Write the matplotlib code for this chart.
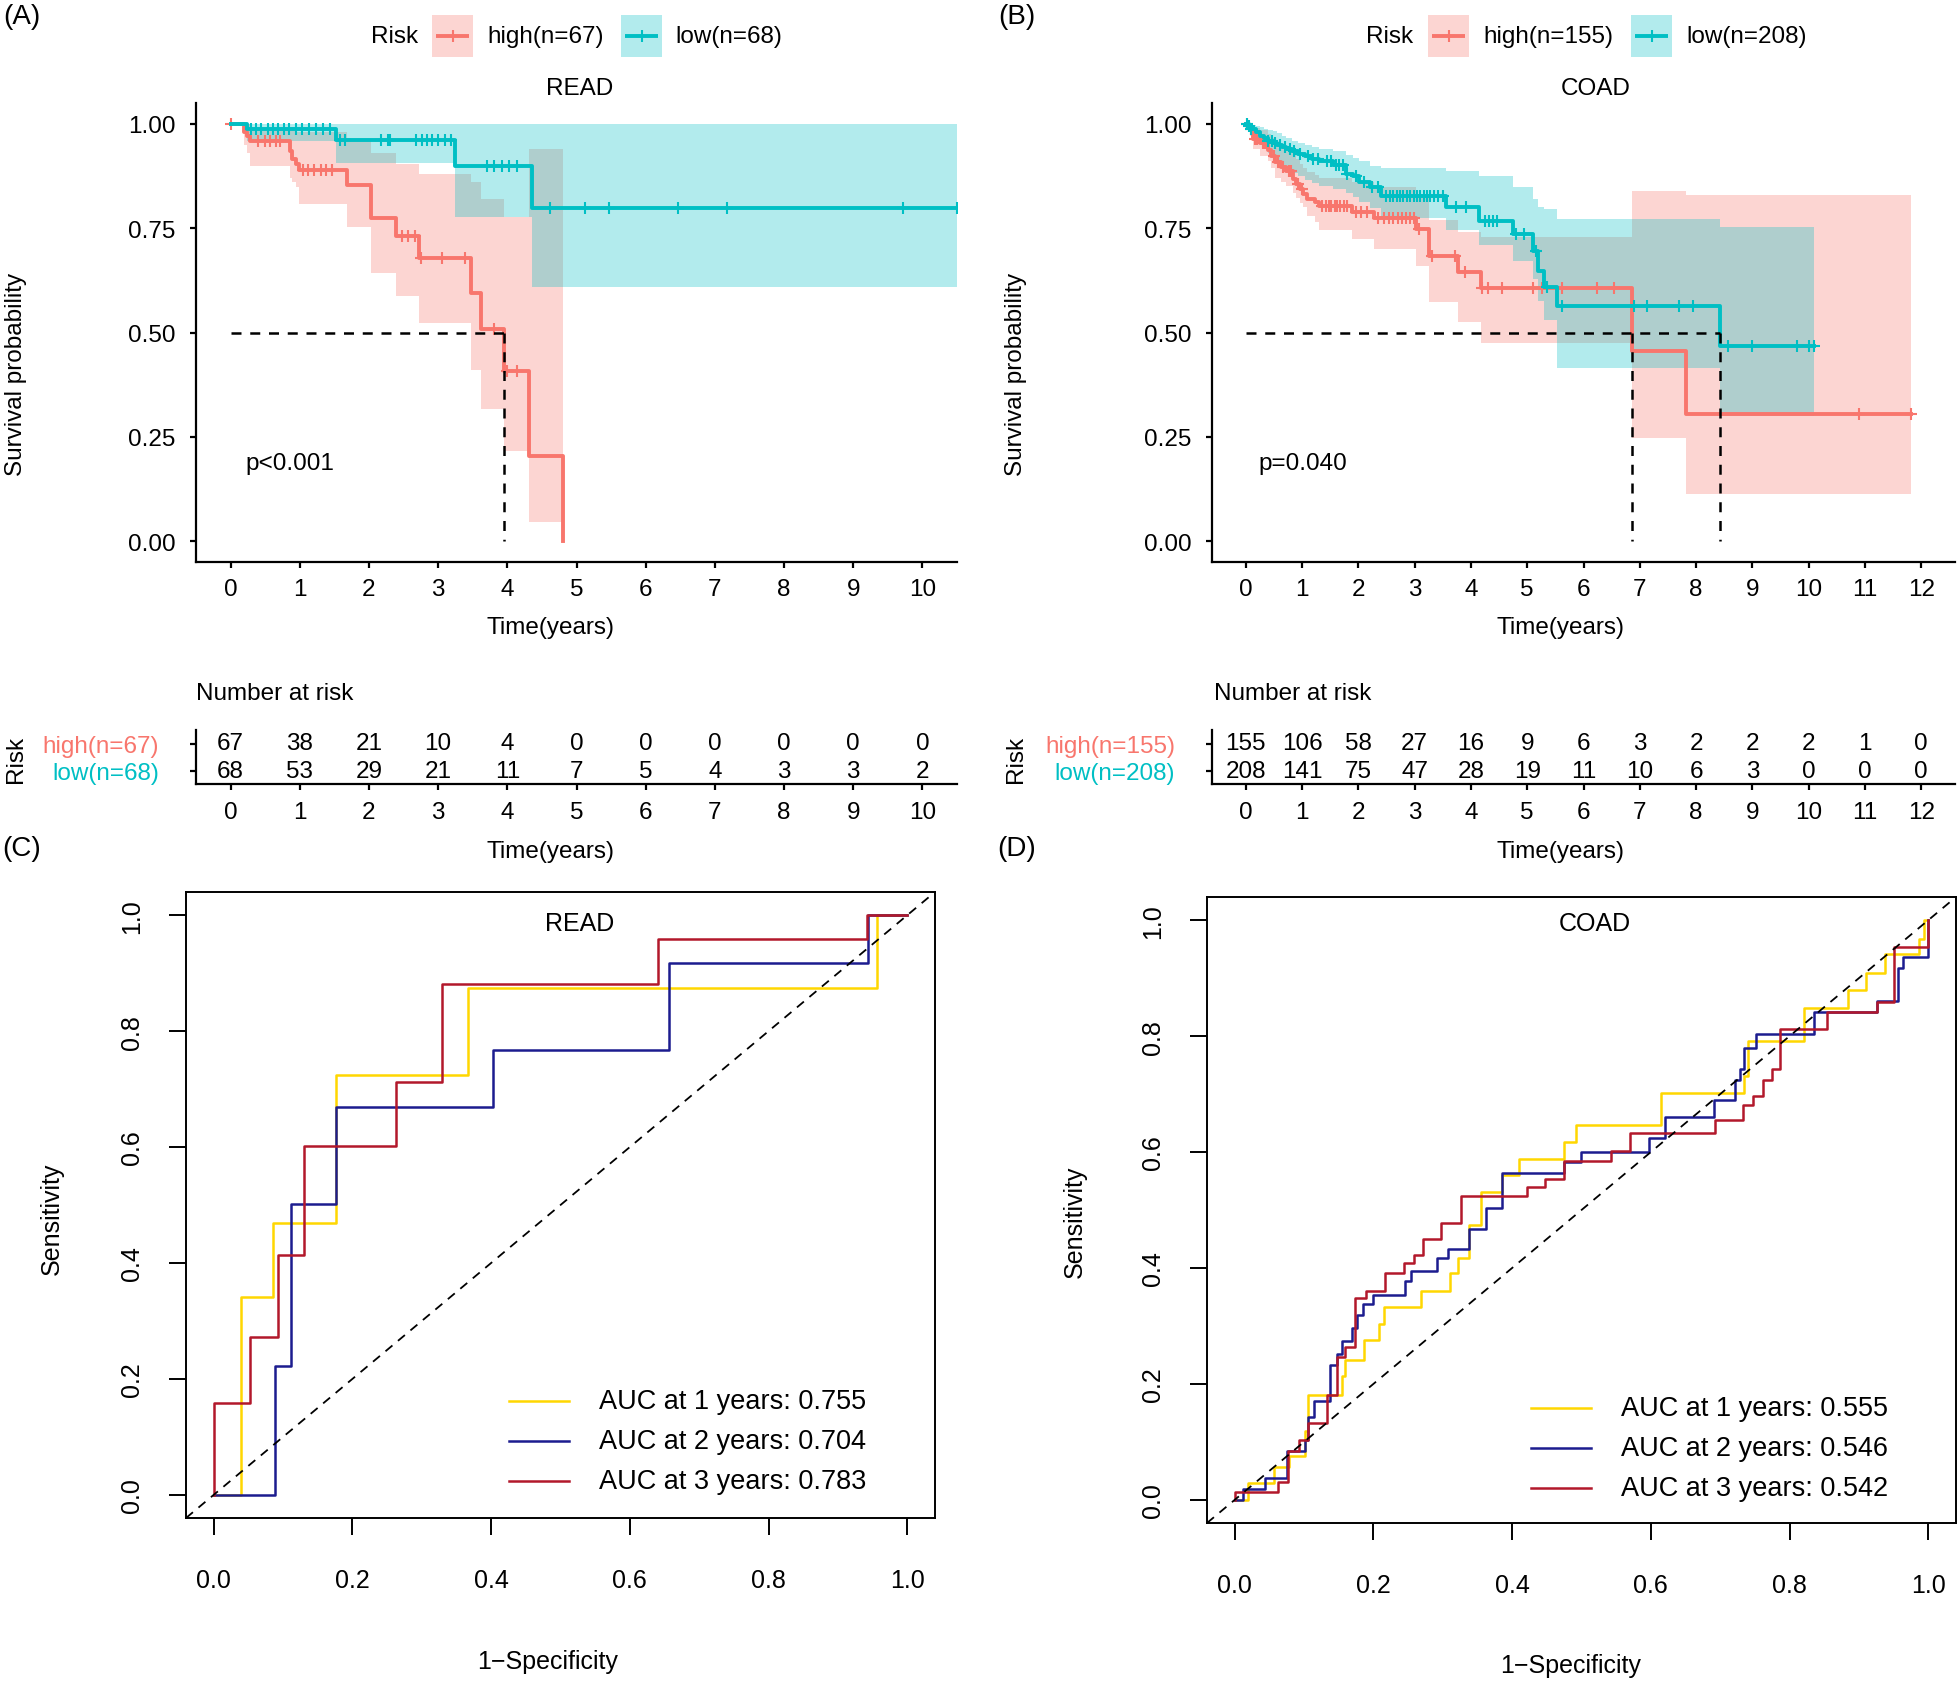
import numpy as np
import matplotlib
matplotlib.use("Agg")
import matplotlib.pyplot as plt
from matplotlib.patches import Rectangle

plt.rcParams['font.family'] = ['Liberation Sans', 'DejaVu Sans']

RED = '#F8766D'
TEAL = '#00BFC4'
ROC_COLS = ['#FFD700', '#1C1C8F', '#B2182B']

# ---------------- Panel A (READ) Kaplan-Meier ----------------
A_high_t = [0, 0.19, 0.23, 0.28, 0.86, 0.89, 0.95, 0.99, 1.68, 2.03, 2.39, 2.73, 3.47, 3.62, 3.95, 4.31, 4.80]
A_high_s = [1.0, 0.980, 0.972, 0.958, 0.936, 0.916, 0.904, 0.890, 0.854, 0.775, 0.731, 0.678, 0.595, 0.508, 0.408, 0.205, 0.0]
A_high_lo = [1.0, 0.950, 0.930, 0.900, 0.870, 0.860, 0.848, 0.807, 0.754, 0.642, 0.588, 0.523, 0.411, 0.317, 0.215, 0.046, 0.046]
A_high_up = [1.0, 1.0, 1.0, 0.990, 0.985, 0.982, 0.980, 0.980, 0.960, 0.930, 0.905, 0.880, 0.860, 0.820, 0.776, 0.940, 0.940]
A_high_cens = [0.0, 0.39, 0.50, 0.57, 0.65, 0.72, 1.05, 1.12, 1.21, 1.31, 1.38, 1.46, 2.48, 2.57, 2.66,
               2.75, 3.05, 3.39, 3.81, 4.00, 4.14]

A_low_t = [0, 0.23, 1.52, 3.25, 4.36, 10.5]
A_low_s = [1.0, 0.988, 0.962, 0.898, 0.799, 0.799]
A_low_lo = [1.0, 0.960, 0.906, 0.776, 0.608, 0.608]
A_low_up = [1.0, 1.0, 1.0, 1.0, 1.0, 1.0]
A_low_cens = [0.30, 0.37, 0.44, 0.54, 0.61, 0.69, 0.77, 0.84, 0.94, 1.03, 1.13, 1.23, 1.33, 1.43, 1.58, 1.65,
              2.17, 2.27, 2.31, 2.68, 2.76, 2.84, 2.91, 3.00, 3.10, 3.18, 3.70, 3.81, 3.92, 4.03, 4.14,
              4.62, 5.13, 5.47, 6.47, 7.18, 9.72, 10.5]

# ---------------- Panel B (COAD) Kaplan-Meier ----------------
B_high_t = [0, 0.03, 0.08, 0.13, 0.25, 0.40, 0.45, 0.52, 0.62, 0.72, 0.84, 0.90, 0.96, 1.02, 1.08, 1.23, 1.30,
            1.88, 2.27, 3.03, 3.25, 3.77, 4.18, 6.86, 7.82, 11.81]
B_high_s = [1.0, 0.994, 0.988, 0.964, 0.955, 0.938, 0.924, 0.908, 0.896, 0.888, 0.868, 0.856, 0.844, 0.832,
            0.820, 0.812, 0.804, 0.788, 0.774, 0.748, 0.684, 0.646, 0.606, 0.456, 0.305, 0.305]
B_high_lo = [1.0, 0.985, 0.972, 0.940, 0.924, 0.910, 0.895, 0.870, 0.860, 0.852, 0.835, 0.822, 0.810, 0.800,
             0.780, 0.765, 0.745, 0.724, 0.700, 0.660, 0.572, 0.526, 0.476, 0.247, 0.113, 0.113]
B_high_up = [1.0, 1.0, 0.998, 0.990, 0.985, 0.975, 0.965, 0.955, 0.945, 0.940, 0.925, 0.915, 0.905, 0.895,
             0.885, 0.878, 0.870, 0.860, 0.848, 0.825, 0.770, 0.740, 0.730, 0.840, 0.830, 0.830]
B_high_cens = [0.02, 0.10, 0.16, 0.20, 0.30, 0.35, 0.50, 0.58, 0.66, 0.76, 0.80, 0.92, 1.00, 1.35, 1.42, 1.48,
               1.52, 1.58, 1.62, 1.68, 1.74, 1.80, 1.95, 2.05, 2.15, 2.35, 2.45, 2.55, 2.62, 2.70, 2.78,
               2.85, 2.92, 2.98, 3.08, 3.30, 3.71, 3.90, 4.20, 4.30, 4.55, 5.11, 5.26, 5.61, 6.24, 6.55,
               10.90, 11.81]

B_low_t = [0, 0.05, 0.10, 0.18, 0.25, 0.32, 0.40, 0.48, 0.56, 0.64, 0.72, 0.82, 0.92, 1.05, 1.18, 1.30, 1.55,
           1.78, 1.90, 2.02, 2.20, 2.41, 3.56, 4.14, 4.74, 5.11, 5.20, 5.29, 5.53, 8.43, 10.10]
B_low_s = [1.0, 0.994, 0.988, 0.980, 0.972, 0.966, 0.960, 0.955, 0.950, 0.945, 0.940, 0.934, 0.928, 0.922,
           0.916, 0.910, 0.902, 0.880, 0.874, 0.860, 0.848, 0.826, 0.800, 0.768, 0.736, 0.696, 0.648, 0.608,
           0.563, 0.468, 0.468]
B_low_lo = [1.0, 0.985, 0.972, 0.960, 0.950, 0.940, 0.930, 0.920, 0.910, 0.900, 0.890, 0.882, 0.874, 0.866,
            0.858, 0.852, 0.845, 0.834, 0.825, 0.812, 0.798, 0.774, 0.745, 0.710, 0.672, 0.628, 0.575, 0.530,
            0.414, 0.300, 0.300]
B_low_up = [1.0, 1.0, 0.998, 0.995, 0.992, 0.988, 0.985, 0.982, 0.978, 0.972, 0.965, 0.960, 0.955, 0.950,
            0.945, 0.940, 0.935, 0.925, 0.918, 0.910, 0.900, 0.895, 0.888, 0.876, 0.848, 0.820, 0.800, 0.796,
            0.772, 0.752, 0.752]
B_low_cens = [0.02, 0.06, 0.10, 0.40, 0.46, 0.52, 0.60, 0.70, 0.78, 0.86, 0.96, 1.10, 1.20, 1.28, 1.45, 1.52,
              1.60, 1.66, 1.72, 1.80, 1.95, 2.10, 2.25, 2.35, 2.50, 2.56, 2.62, 2.68, 2.74, 2.80, 2.86, 2.92,
              2.98, 3.04, 3.10, 3.16, 3.22, 3.28, 3.35, 3.42, 3.50, 3.74, 3.92, 4.25, 4.32, 4.40, 4.46, 4.80,
              4.95, 5.15, 5.35, 5.61, 6.90, 7.12, 7.69, 7.95, 8.56, 9.00, 9.79, 10.00, 10.10]

# ---------------- Number at risk tables ----------------
A_risk_times = [0, 1, 2, 3, 4, 5, 6, 7, 8, 9, 10]
A_risk_high = [67, 38, 21, 10, 4, 0, 0, 0, 0, 0, 0]
A_risk_low = [68, 53, 29, 21, 11, 7, 5, 4, 3, 3, 2]
B_risk_times = [0, 1, 2, 3, 4, 5, 6, 7, 8, 9, 10, 11, 12]
B_risk_high = [155, 106, 58, 27, 16, 9, 6, 3, 2, 2, 2, 1, 0]
B_risk_low = [208, 141, 75, 47, 28, 19, 11, 10, 6, 3, 0, 0, 0]

A_labels = ['high(n=67)', 'low(n=68)']
B_labels = ['high(n=155)', 'low(n=208)']
A_pval = 'p<0.001'
B_pval = 'p=0.040'

# ---------------- Panel C (READ) time-dependent ROC ----------------
C_fp_1 = [0, 0.039, 0.085, 0.177, 0.367, 0.956, 1.0]
C_tp_1 = [0, 0.342, 0.469, 0.724, 0.874, 1.0, 1.0]
C_fp_2 = [0, 0.089, 0.112, 0.177, 0.402, 0.657, 0.943, 1.0]
C_tp_2 = [0, 0.223, 0.502, 0.669, 0.767, 0.917, 1.0, 1.0]
C_fp_3 = [0, 0, 0.053, 0.093, 0.130, 0.263, 0.329, 0.641, 0.942, 1.0]
C_tp_3 = [0, 0.159, 0.272, 0.413, 0.602, 0.712, 0.882, 0.959, 1.0, 1.0]
C_auc = [0.755, 0.704, 0.783]

# ---------------- Panel D (COAD) time-dependent ROC ----------------
D_fp_1 = [0, 0.019, 0.057, 0.078, 0.101, 0.106, 0.154, 0.159, 0.187, 0.208, 0.215, 0.269, 0.310, 0.322, 0.338,
          0.355, 0.385, 0.410, 0.475, 0.492, 0.614, 0.735, 0.740, 0.821, 0.884, 0.910, 0.938, 0.987, 0.994, 1.0]
D_tp_1 = [0, 0.029, 0.057, 0.075, 0.118, 0.180, 0.214, 0.242, 0.276, 0.304, 0.333, 0.360, 0.392, 0.418, 0.474,
          0.531, 0.561, 0.588, 0.618, 0.646, 0.702, 0.731, 0.791, 0.848, 0.880, 0.909, 0.941, 0.967, 1.0, 1.0]
D_fp_2 = [0, 0.012, 0.043, 0.076, 0.101, 0.106, 0.115, 0.138, 0.148, 0.154, 0.169, 0.176, 0.185, 0.199, 0.245,
          0.254, 0.292, 0.308, 0.338, 0.362, 0.385, 0.475, 0.499, 0.598, 0.621, 0.691, 0.721, 0.728, 0.735,
          0.751, 0.835, 0.926, 0.956, 0.964, 1.0]
D_tp_2 = [0, 0.018, 0.037, 0.085, 0.103, 0.143, 0.171, 0.232, 0.252, 0.274, 0.296, 0.319, 0.337, 0.354, 0.378,
          0.394, 0.417, 0.433, 0.468, 0.504, 0.563, 0.582, 0.600, 0.625, 0.661, 0.689, 0.725, 0.743, 0.780,
          0.804, 0.841, 0.860, 0.917, 0.936, 1.0]
D_fp_3 = [0, 0.001, 0.063, 0.077, 0.092, 0.105, 0.133, 0.147, 0.159, 0.173, 0.189, 0.216, 0.244, 0.258, 0.271,
          0.298, 0.326, 0.422, 0.448, 0.475, 0.543, 0.570, 0.693, 0.733, 0.747, 0.761, 0.774, 0.786, 0.854,
          0.926, 0.950, 1.0]
D_tp_3 = [0, 0.014, 0.030, 0.085, 0.103, 0.133, 0.180, 0.247, 0.264, 0.349, 0.361, 0.392, 0.408, 0.423, 0.450,
          0.478, 0.525, 0.540, 0.554, 0.584, 0.602, 0.632, 0.656, 0.681, 0.696, 0.725, 0.743, 0.813, 0.841,
          0.858, 0.953, 1.0]
D_auc = [0.555, 0.546, 0.542]
ROC_years = [1, 2, 3]

# ==========================================================
W, H = 1960, 1683
fig = plt.figure(figsize=(W / 100, H / 100), dpi=100)
FS = 17.5


def px_axes(x0, y0, x1, y1):
    return fig.add_axes([x0 / W, 1 - y1 / H, (x1 - x0) / W, (y1 - y0) / H])


def step_val(t, s, q):
    t = np.asarray(t)
    s = np.asarray(s)
    idx = np.searchsorted(t, q, side='right') - 1
    return s[np.clip(idx, 0, len(s) - 1)]


def style_gg(ax):
    for side in ['top', 'right']:
        ax.spines[side].set_visible(False)
    for side in ['left', 'bottom']:
        ax.spines[side].set_linewidth(1.6)
    ax.tick_params(length=4.5, width=1.6, labelsize=FS, colors='black')


def km_panel(ax, groups, xlim, xticks, pval):
    for t, s, lo, up, cens, col in groups:
        ax.fill_between(t, lo, up, step='post', color=col, alpha=0.3, lw=0)
    meds = []
    for t, s, lo, up, cens, col in groups:
        ax.step(t, s, where='post', color=col, lw=2.8)
        c = np.asarray(cens)
        ax.plot(c, step_val(t, s, c), ls='none', marker='+', ms=9, mew=1.5, color=col)
        sa = np.asarray(s)
        below = np.nonzero(sa <= 0.5)[0]
        if len(below):
            meds.append(t[below[0]])
    if meds:
        ax.plot([0, max(meds)], [0.5, 0.5], color='black', lw=1.8, ls=(0, (4, 3.5)), zorder=5)
        for m in meds:
            ax.plot([m, m], [0.5, 0], color='black', lw=1.8, ls=(0, (4, 3.5)), zorder=5)
    ax.set_xlim(*xlim)
    ax.set_ylim(-0.05, 1.05)
    ax.set_xticks(xticks)
    ax.set_yticks([0, 0.25, 0.5, 0.75, 1.0])
    ax.set_yticklabels(['0.00', '0.25', '0.50', '0.75', '1.00'])
    style_gg(ax)
    ax.tick_params(axis='y', pad=10)
    ax.tick_params(axis='x', pad=7)
    ax.text(0.22, 0.187, pval, fontsize=FS, ha='left', va='center')


def risk_table(ax, times, high, low, labels, xlim):
    for tt, h, l in zip(times, high, low):
        ax.text(tt, 2, str(h), ha='center', va='center', fontsize=FS)
        ax.text(tt, 1, str(l), ha='center', va='center', fontsize=FS)
    ax.set_xlim(*xlim)
    ax.set_ylim(0.5, 2.5)
    ax.set_xticks(times)
    ax.set_yticks([2, 1])
    ax.set_yticklabels(labels)
    style_gg(ax)
    ax.tick_params(axis='y', pad=22, length=4.5)
    ax.tick_params(axis='x', pad=8)
    for lab, col in zip(ax.get_yticklabels(), [RED, TEAL]):
        lab.set_color(col)


def roc_panel(ax, curves):
    for fp, tp, col in curves:
        ax.step(fp, tp, where='post', color=col, lw=1.8)
    ax.axline((0, 0), slope=1, color='black', lw=1.3, ls=(0, (5, 4)))
    ax.set_xlim(-0.04, 1.04)
    ax.set_ylim(-0.04, 1.04)
    ticks = [0.0, 0.2, 0.4, 0.6, 0.8, 1.0]
    ax.set_xticks(ticks)
    ax.set_yticks(ticks)
    ax.set_xticklabels([f'{v:.1f}' for v in ticks])
    ax.set_yticklabels([f'{v:.1f}' for v in ticks], rotation=90, va='center')
    for sp in ax.spines.values():
        sp.set_linewidth(1.4)
    ax.tick_params(length=12, width=1.4, labelsize=18, colors='black')
    ax.tick_params(axis='x', pad=24)
    ax.tick_params(axis='y', pad=18)


# ---- KM panels ----
axA = px_axes(196, 104, 957, 563)
km_panel(axA, [(A_high_t, A_high_s, A_high_lo, A_high_up, A_high_cens, RED),
               (A_low_t, A_low_s, A_low_lo, A_low_up, A_low_cens, TEAL)],
         (-0.5, 10.5), A_risk_times, A_pval)
axB = px_axes(1212, 104, 1955, 563)
km_panel(axB, [(B_high_t, B_high_s, B_high_lo, B_high_up, B_high_cens, RED),
               (B_low_t, B_low_s, B_low_lo, B_low_up, B_low_cens, TEAL)],
         (-0.6, 12.6), B_risk_times, B_pval)

# ---- risk tables ----
axAr = px_axes(196, 731, 957, 785)
risk_table(axAr, A_risk_times, A_risk_high, A_risk_low, A_labels, (-0.5, 10.5))
axBr = px_axes(1212, 731, 1955, 785)
risk_table(axBr, B_risk_times, B_risk_high, B_risk_low, B_labels, (-0.6, 12.6))

# ---- ROC panels ----
axC = px_axes(186, 893, 935, 1519)
roc_panel(axC, [(C_fp_1, C_tp_1, ROC_COLS[0]), (C_fp_2, C_tp_2, ROC_COLS[1]), (C_fp_3, C_tp_3, ROC_COLS[2])])
axD = px_axes(1207, 898, 1956, 1524)
roc_panel(axD, [(D_fp_1, D_tp_1, ROC_COLS[0]), (D_fp_2, D_tp_2, ROC_COLS[1]), (D_fp_3, D_tp_3, ROC_COLS[2])])

# ---- overlay for free text / legends (pixel coordinates, y down) ----
ov = fig.add_axes([0, 0, 1, 1])
ov.set_xlim(0, W)
ov.set_ylim(H, 0)
ov.axis('off')


def T(x, y, s, **kw):
    kw.setdefault('fontsize', FS)
    kw.setdefault('ha', 'center')
    kw.setdefault('va', 'center')
    ov.text(x, y, s, **kw)


for lab, x, y in [('(A)', 22, 17), ('(B)', 1017, 17), ('(C)', 22, 849), ('(D)', 1017, 849)]:
    T(x, y, lab, fontsize=20)

T(580, 89, 'READ')
T(1596, 89, 'COAD')
for x in (16, 1016):
    T(x, 374, 'Survival probability', rotation=90)
    T(x, 759, 'Risk', rotation=90)
T(550, 628, 'Time(years)')
T(1560, 628, 'Time(years)')
T(550, 852, 'Time(years)')
T(1560, 852, 'Time(years)')
T(196, 694, 'Number at risk', ha='left')
T(1214, 694, 'Number at risk', ha='left')


def km_legend(x_risk, x_box1, x_txt1, x_box2, x_txt2, labels):
    T(x_risk, 37, 'Risk', ha='left')
    for xb, xt, col, lab in [(x_box1, x_txt1, RED, labels[0]), (x_box2, x_txt2, TEAL, labels[1])]:
        ov.add_patch(Rectangle((xb, 16), 41, 42, facecolor=col, alpha=0.3, lw=0))
        ov.plot([xb + 4, xb + 37], [37, 37], color=col, lw=2.8, solid_capstyle='butt')
        ov.plot([xb + 20.5], [37], marker='+', ms=9, mew=1.5, color=col)
        T(xt, 37, lab, ha='left')


km_legend(371, 432, 487, 621, 675, A_labels)
km_legend(1366, 1428, 1483, 1631, 1686, B_labels)

# ROC texts
T(580, 924, 'READ', fontsize=18)
T(1595, 924, 'COAD', fontsize=18)
T(52, 1219, 'Sensitivity', rotation=90, fontsize=18)
T(1075, 1222, 'Sensitivity', rotation=90, fontsize=18)
T(548, 1662, '1\u2212Specificity', fontsize=18)
T(1571, 1666, '1\u2212Specificity', fontsize=18)


def roc_legend(x0, x1, xt, ys, aucs):
    for y, col, yr, auc in zip(ys, ROC_COLS, ROC_years, aucs):
        ov.plot([x0, x1], [y, y], color=col, lw=1.8)
        T(xt, y, f'AUC at {yr} years: {auc:.3f}', ha='left', fontsize=19.5)


roc_legend(509, 569, 599, [1402, 1442, 1482], C_auc)
roc_legend(1531, 1591, 1621, [1409, 1449, 1489], D_auc)

fig.savefig('out.png', dpi=100)
